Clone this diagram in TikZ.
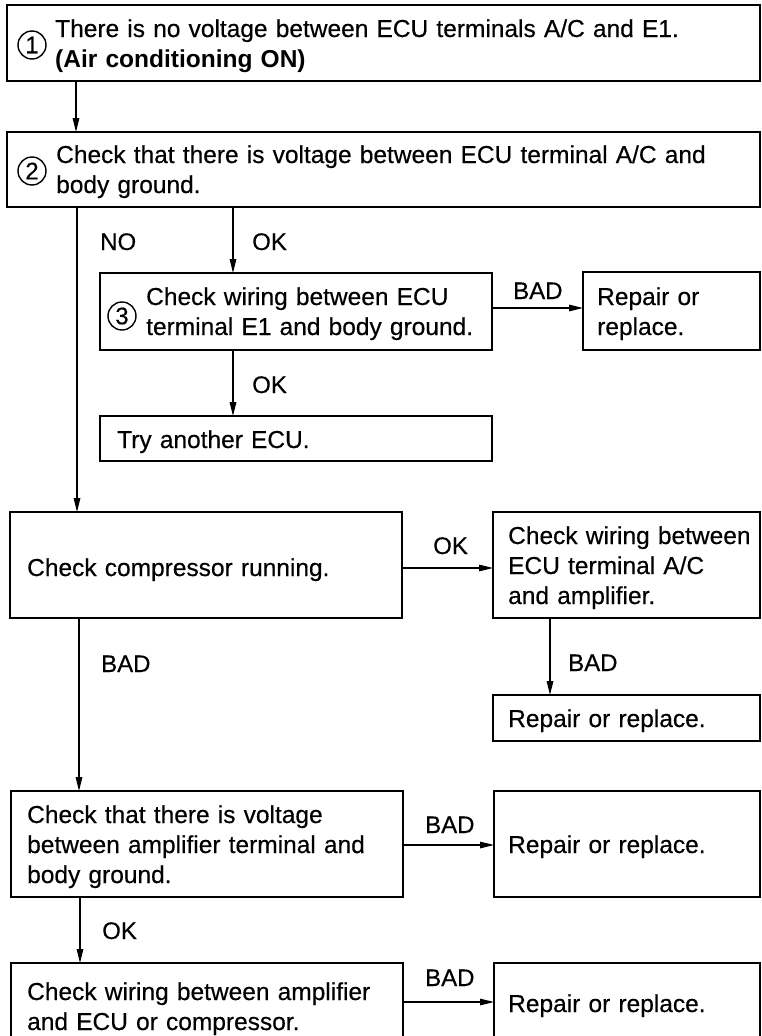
\documentclass[tikz,border=0pt]{standalone}
\usepackage{fontspec}
\setmainfont{Liberation Sans}[UprightFeatures={FakeBold=0.4}]
\usetikzlibrary{arrows.meta}
\begin{document}
\begin{tikzpicture}[x=1pt,y=-1pt,
  box/.style={draw, line width=1.8pt, rectangle, inner sep=0pt, outer sep=0pt, anchor=north west},
  txt/.style={inner sep=0pt, align=left, text width=700pt, anchor=base west, font=\fontsize{24.5}{30}\selectfont},
  lbl/.style={inner sep=0pt, anchor=base west, font=\fontsize{24}{30}\selectfont},
  num/.style={draw, circle, line width=1.4pt, minimum size=28pt, inner sep=0pt, font=\fontsize{24}{24}\selectfont},
  arr/.style={line width=1.3pt, -{Triangle[length=14pt,width=6.5pt]}}
]
\useasboundingbox (0,0) rectangle (762,1036);
\clip (0,0) rectangle (762,1036);
\fill[white] (0,0) rectangle (762,1036);

% boxes
\node[box, minimum width=753pt, minimum height=76pt] (b1) at (7,5) {};
\node[box, minimum width=753pt, minimum height=75pt] (b2) at (7,132) {};
\node[box, minimum width=392pt, minimum height=77pt] (b3) at (100,273) {};
\node[box, minimum width=177pt, minimum height=78pt] (r1) at (583,272) {};
\node[box, minimum width=392pt, minimum height=45pt] (try) at (100,416) {};
\node[box, minimum width=392pt, minimum height=106pt] (comp) at (10,512) {};
\node[box, minimum width=267pt, minimum height=106pt] (wir) at (493,512) {};
\node[box, minimum width=267pt, minimum height=46pt] (r2) at (493,695) {};
\node[box, minimum width=392pt, minimum height=106pt] (volt) at (11,791) {};
\node[box, minimum width=266pt, minimum height=106pt] (r3) at (494,791) {};
\node[box, minimum width=392pt, minimum height=90pt] (last) at (11,963) {};
\node[box, minimum width=266pt, minimum height=90pt] (r4) at (494,963) {};

% circled numbers
\node[num] (n1) at (32,45) {1};
\node[num] (n2) at (32,171) {2};
\node[num] (n3) at (122,316) {3};

% texts
\node[txt] (t1) at (55,37) {There is no voltage between ECU terminals A/C and E1.\\\textbf{(Air conditioning ON)}};
\node[txt] (t2) at (56,163) {Check that there is voltage between ECU terminal A/C and\\body ground.};
\node[txt] (t3) at (146,305) {Check wiring between ECU\\terminal E1 and body ground.};
\node[txt] (tr1) at (597,305) {Repair or\\replace.};
\node[txt] (ttry) at (117,448) {Try another ECU.};
\node[txt] (tcomp) at (27,576) {Check compressor running.};
\node[txt] (twir) at (508,544) {Check wiring between\\ECU terminal A/C\\and amplifier.};
\node[txt] (tr2) at (508,727) {Repair or replace.};
\node[txt] (tvolt) at (27,823) {Check that there is voltage\\between amplifier terminal and\\body ground.};
\node[txt] (tr3) at (508,853) {Repair or replace.};
\node[txt] (tlast) at (27,1000) {Check wiring between amplifier\\and ECU or compressor.};
\node[txt] (tr4) at (508,1012) {Repair or replace.};

% labels
\node[lbl] (lno) at (100,250) {NO};
\node[lbl] (lok1) at (252,250) {OK};
\node[lbl] (lbad1) at (513,299) {BAD};
\node[lbl] (lok2) at (252,393) {OK};
\node[lbl] (lok3) at (433,554) {OK};
\node[lbl] (lbad2) at (568,671) {BAD};
\node[lbl] (lbad3) at (101,672) {BAD};
\node[lbl] (lbad4) at (425,833) {BAD};
\node[lbl] (lok4) at (102,939) {OK};
\node[lbl] (lbad5) at (425,986) {BAD};

% connectors
\draw[arr] ([xshift=69pt]b1.south west) -- ([xshift=69pt]b2.north west);
\draw[arr] ([xshift=70pt]b2.south west) -- ([xshift=67pt]comp.north west);
\draw[arr] ([xshift=226pt]b2.south west) -- ([xshift=133pt]b3.north west);
\draw[arr] ([yshift=-35pt]b3.north east) -- ([yshift=-36pt]r1.north west);
\draw[arr] ([xshift=133pt]b3.south west) -- ([xshift=133pt]try.north west);
\draw[arr] ([yshift=-56pt]comp.north east) -- ([yshift=-56pt]wir.north west);
\draw[arr] ([xshift=57pt]wir.south west) -- ([xshift=57pt]r2.north west);
\draw[arr] ([xshift=69pt]comp.south west) -- ([xshift=68pt]volt.north west);
\draw[arr] ([yshift=-54pt]volt.north east) -- ([yshift=-54pt]r3.north west);
\draw[arr] ([xshift=69pt]volt.south west) -- ([xshift=69pt]last.north west);
\draw[arr] ([yshift=-39pt]last.north east) -- ([yshift=-39pt]r4.north west);
\end{tikzpicture}
\end{document}
